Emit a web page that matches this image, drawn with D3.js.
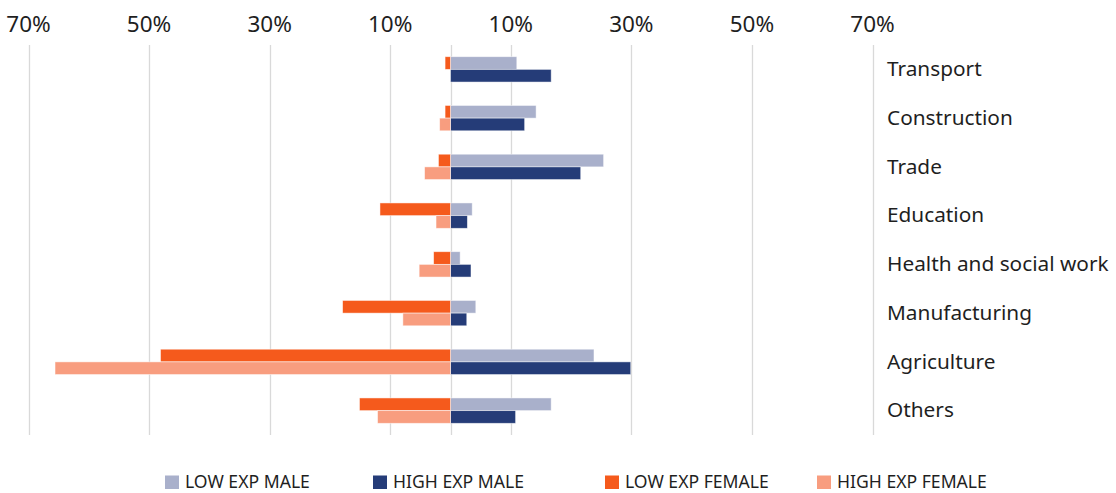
<!DOCTYPE html>
<html>
<head>
<meta charset="utf-8">
<script src="https://cdn.jsdelivr.net/npm/d3@7"></script>
<style>
  body { margin: 0; background: #fff; }
  svg { display: block; font-family: "Source Sans Pro", "Noto Sans", sans-serif; }
</style>
</head>
<body>
<div id="chart"></div>
<script>
const categories = ['Transport', 'Construction', 'Trade', 'Education', 'Health and social work', 'Manufacturing', 'Agriculture', 'Others']
const seriesNames = ['LOW EXP MALE', 'HIGH EXP MALE', 'LOW EXP FEMALE', 'HIGH EXP FEMALE']
// shares in %, females drawn to the left
const lowExpMale = [11.0, 14.2, 25.4, 3.6, 1.6, 4.2, 23.8, 16.7]
const highExpMale = [16.7, 12.3, 21.6, 2.8, 3.4, 2.7, 29.9, 10.8]
const lowExpFemale = [0.9, 0.9, 2.0, 11.7, 2.8, 17.9, 48.1, 15.1]
const highExpFemale = [0, 1.8, 4.3, 2.4, 5.2, 7.9, 65.6, 12.1]
const tickValues = [-70, -50, -30, -10, 10, 30, 50, 70]
const colors = ['#a9b0cb', '#253c78', '#f55a1c', '#f89d7f']

const width = 1116
const height = 493

const svg = d3.select('#chart')
  .append('svg')
  .attr('width', width)
  .attr('height', height)

const x = d3.scaleLinear().domain([-70, 70]).range([28.5, 872.5])
const y = d3.scaleBand().domain(categories).range([45, 435]).paddingInner(0.48).paddingOuter(0.24)

// gridlines
svg.append('g')
  .selectAll('line')
  .data(tickValues.concat([0]))
  .enter()
  .append('line')
  .attr('x1', d => Math.round(x(d)) + 0.5)
  .attr('x2', d => Math.round(x(d)) + 0.5)
  .attr('y1', 45)
  .attr('y2', 435)
  .attr('stroke', '#d9d9d9')
  .attr('stroke-width', 1.3)

// top axis labels
svg.append('g')
  .selectAll('text')
  .data(tickValues)
  .enter()
  .append('text')
  .attr('x', d => x(d))
  .attr('y', 31.5)
  .attr('text-anchor', 'middle')
  .attr('font-size', 22.5)
  .attr('fill', '#1f1f1f')
  .text(d => Math.abs(d) + '%')

const rows = [
  { vals: lowExpMale, sign: 1, color: colors[0], off: 0 },
  { vals: highExpMale, sign: 1, color: colors[1], off: 1 },
  { vals: lowExpFemale, sign: -1, color: colors[2], off: 0 },
  { vals: highExpFemale, sign: -1, color: colors[3], off: 1 }
]

const barH = y.bandwidth() / 2

rows.forEach(r => {
  svg.append('g')
    .selectAll('rect')
    .data(categories.map((c, i) => ({ c: c, v: r.sign * r.vals[i] })))
    .enter()
    .append('rect')
    .attr('x', d => x(Math.min(0, d.v)))
    .attr('width', d => Math.abs(x(d.v) - x(0)))
    .attr('y', d => y(d.c) + r.off * barH)
    .attr('height', barH)
    .attr('fill', r.color)
    .attr('stroke', '#fff')
    .attr('stroke-opacity', 0.6)
    .attr('stroke-width', 0.8)
})

// category labels on the right
svg.append('g')
  .selectAll('text')
  .data(categories)
  .enter()
  .append('text')
  .attr('x', 887)
  .attr('y', d => y(d) + y.bandwidth() / 2 + 6.8)
  .attr('font-size', 20.8)
  .attr('fill', '#1f1f1f')
  .text(d => d)

// legend
const legX = [165, 373, 605, 817]
const leg = svg.append('g')
  .selectAll('g')
  .data(seriesNames)
  .enter()
  .append('g')
  .attr('transform', (d, i) => 'translate(' + legX[i] + ',475.5)')

leg.append('rect')
  .attr('width', 14)
  .attr('height', 13.5)
  .attr('fill', (d, i) => colors[i])

leg.append('text')
  .attr('x', 20)
  .attr('y', 12.8)
  .attr('font-size', 17.6)
  .attr('fill', '#1f1f1f')
  .text(d => d)
</script>
</body>
</html>
